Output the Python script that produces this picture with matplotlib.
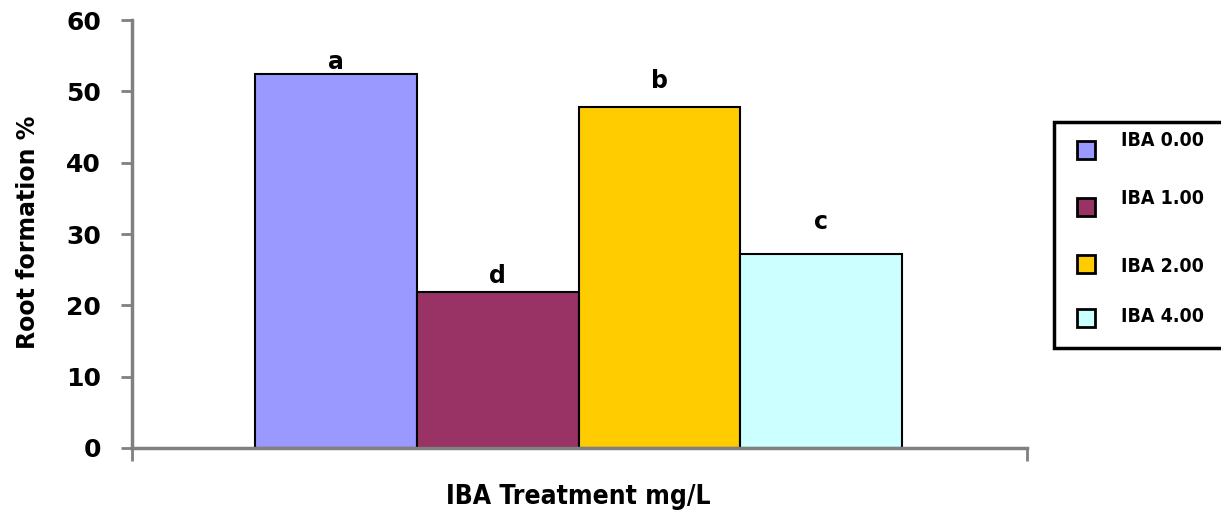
import matplotlib.pyplot as plt
from matplotlib.patches import Rectangle

treatments = ["IBA 0.00", "IBA 1.00", "IBA 2.00", "IBA 4.00"]
root_formation = [52.4, 21.8, 47.8, 27.2]
letters = ["a", "d", "b", "c"]
colors = ["#9999FF", "#993366", "#FFCC00", "#CCFFFF"]
y_ticks = [0, 10, 20, 30, 40, 50, 60]

plt.rcParams["font.family"] = ["DejaVu Sans"]
plt.rcParams["font.weight"] = "bold"

fig = plt.figure(figsize=(12.21, 5.2), dpi=100)
ax = fig.add_axes([0.108, 0.1385, 0.733, 0.823])

x = list(range(len(treatments)))
bars = ax.bar(x, root_formation, width=1.0, color=colors,
              edgecolor="black", linewidth=1.5, zorder=2)

# gap between bar top and letter baseline, in points
offsets = [4, 7, 14, 18]
for bar, letter, off in zip(bars, letters, offsets):
    ax.annotate(letter, (bar.get_x() + bar.get_width() / 2, bar.get_height()),
                xytext=(0, off), textcoords="offset points",
                ha="center", va="baseline", fontsize=17, fontweight="bold")

ax.set_xlim(-1.26, 4.27)
ax.set_ylim(0, 60)
ax.set_yticks(y_ticks)
ax.set_yticklabels([str(t) for t in y_ticks], fontsize=18, fontweight="bold")
ax.set_xticks([-1.26, 4.27])
ax.set_xticklabels([])
ax.tick_params(axis="y", direction="out", length=8, width=2,
               color="#808080", pad=14)
ax.tick_params(axis="x", direction="out", length=9, width=2,
               color="#808080")
for side in ["top", "right"]:
    ax.spines[side].set_visible(False)
for side in ["left", "bottom"]:
    ax.spines[side].set_color("#808080")
    ax.spines[side].set_linewidth(2.5)

W, H = 1221, 520
fig.text(28 / W, 1 - 232 / H, "Root formation %", rotation=90,
         ha="center", va="center", fontsize=17, fontweight="bold")
fig.text(578 / W, 1 - 497 / H, "IBA Treatment mg/L", ha="center",
         va="center", fontsize=19, fontweight="bold", stretch="condensed")

# legend box running off the right edge of the figure
fig.add_artist(Rectangle((1054 / W, 1 - 348 / H), 200 / W, 226 / H,
                         transform=fig.transFigure, facecolor="white",
                         edgecolor="black", linewidth=2.5, clip_on=False))
sq_y = [150, 207, 264, 318]
txt_y = [141, 199, 267, 317]
for name, col, sy, ty in zip(treatments, colors, sq_y, txt_y):
    fig.add_artist(Rectangle((1077 / W, 1 - (sy + 9) / H), 18 / W, 18 / H,
                             transform=fig.transFigure, facecolor=col,
                             edgecolor="black", linewidth=2))
    fig.text(1121 / W, 1 - ty / H, name, ha="left", va="center",
             fontsize=14, fontweight="bold", stretch="condensed")

fig.savefig("out.png", dpi=100)
